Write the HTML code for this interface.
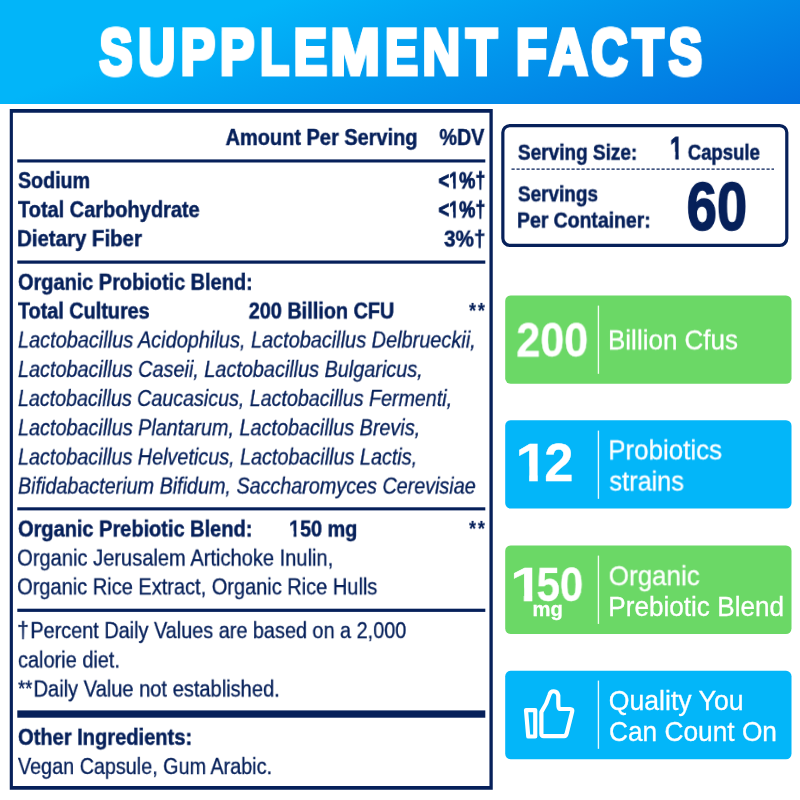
<!DOCTYPE html>
<html lang="en">
<head>
<meta charset="utf-8">
<title>Supplement Facts</title>
<style>
html,body{margin:0;padding:0;}
body{width:800px;height:800px;position:relative;overflow:hidden;background:#fff;font-family:"Liberation Sans",sans-serif;}
.abs{position:absolute;}
.hdr{left:0;top:0;width:800px;height:103.5px;background:linear-gradient(160deg,#02b5f9 26%,#0270de 100%);}
.t{will-change:transform;position:absolute;left:0;top:0;white-space:pre;line-height:1;transform-origin:0 0;color:#06205a;font-weight:normal;-webkit-text-stroke:0.35px #06205a;}
.b{font-weight:bold;-webkit-text-stroke:0.5px #06205a;}
.i{font-style:italic;}
.hv{-webkit-text-stroke:0.9px #06205a;}
.hv2{-webkit-text-stroke:1.4px #06205a;}
.ns{-webkit-text-stroke:0.15px #06205a;}
.one{clip-path:polygon(0 0,0.372em 0,0.372em 1em,0.229em 1em,0.229em 0.58em,0 0.58em);}
.w{color:#fff;-webkit-text-stroke:0.3px #fff;}
.title{-webkit-text-stroke:4px #fff;text-shadow:-1.7px -1.7px 0 #fff,-1.7px 1.7px 0 #fff,1.7px -1.7px 0 #fff,1.7px 1.7px 0 #fff;}
</style>
</head>
<body>
<div class="abs hdr"></div>

<svg class="abs" style="left:0;top:0" width="800" height="800" viewBox="0 0 800 800">
<g fill="#06205a">
<path fill-rule="evenodd" d="M9.75 109H492.75V789.75H9.75Z M12.9 112.75V786H489.45V112.75Z"/>
<rect x="17.3" y="159.4" width="468" height="3.1"/>
<rect x="17.3" y="260.5" width="468" height="3.2"/>
<rect x="17.3" y="507.3" width="468" height="3.1"/>
<rect x="17.3" y="608.7" width="468" height="3.2"/>
<rect x="17.3" y="710.4" width="468" height="7.3"/>
</g>
<g>
<rect x="505.2" y="295.4" width="286.3" height="88.4" rx="5.5" fill="#6bd866"/>
<rect x="505.2" y="420.2" width="286.3" height="88.4" rx="5.5" fill="#03b6f9"/>
<rect x="505.2" y="545.5" width="286.3" height="88.5" rx="5.5" fill="#6bd866"/>
<rect x="505.2" y="670.8" width="286.3" height="88.5" rx="5.5" fill="#03b6f9"/>
<g fill="#fff" fill-opacity=".92">
<rect x="597.75" y="305.6" width="1.35" height="68.2"/>
<rect x="597.75" y="430.6" width="1.35" height="68.2"/>
<rect x="597.75" y="555.6" width="1.35" height="68.3"/>
<rect x="597.75" y="680.6" width="1.35" height="68.2"/>
</g>
</g>
<rect x="502.85" y="125.6" width="283.95" height="119.7" rx="7" ry="7" fill="none" stroke="#06205a" stroke-width="3.2"/>
<line x1="511.5" y1="169.1" x2="774" y2="169.1" stroke="#06205a" stroke-width="1.3" stroke-dasharray="3.2 1.8"/>
</svg>
<svg class="abs" style="left:510px;top:675px" width="100" height="80" viewBox="0 0 100 80" fill="none" stroke="#fff" stroke-width="4.2" stroke-linejoin="round" stroke-linecap="round">
<path d="M16 35.1 L25.25 35.1 L25.25 61.5 L18.25 61.5 Z"/>
<path d="M31.4 58.75 L31.4 37 C34.5 32.5 37.5 27 39.6 19.5 C40.6 15.2 47.2 14.8 48.3 20.5 L48.3 28.5 C48.3 31.5 48.7 33.9 49.5 33.9 L60 34 Q62.9 34.1 62.2 36.6 L56.6 58.7 Q55.9 61.1 54.4 61.1 L33.75 61.1 Q31.4 61.1 31.4 58.75 Z"/>
</svg>

<div class="t b w title" style="font-size:66px;transform:translate(99.26px,19.41px) scale(0.7556,0.9837)">S</div>
<div class="t b w title" style="font-size:66px;transform:translate(137.97px,19.41px) scale(0.7833,0.9837)">U</div>
<div class="t b w title" style="font-size:66px;transform:translate(180.68px,19.41px) scale(0.7857,0.9837)">P</div>
<div class="t b w title" style="font-size:66px;transform:translate(219.93px,19.41px) scale(0.7833,0.9837)">P</div>
<div class="t b w title" style="font-size:66px;transform:translate(260.05px,19.41px) scale(0.7244,0.9837)">L</div>
<div class="t b w title" style="font-size:66px;transform:translate(293.73px,19.41px) scale(0.7619,0.9837)">E</div>
<div class="t b w title" style="font-size:66px;transform:translate(330.45px,19.41px) scale(0.8990,0.9837)">M</div>
<div class="t b w title" style="font-size:66px;transform:translate(385.00px,19.41px) scale(0.7524,0.9837)">E</div>
<div class="t b w title" style="font-size:66px;transform:translate(422.41px,19.41px) scale(0.7955,0.9837)">N</div>
<div class="t b w title" style="font-size:66px;transform:translate(465.95px,19.41px) scale(0.7750,0.9837)">T</div>
<div class="t b w title" style="font-size:66px;transform:translate(515.95px,19.41px) scale(0.7737,0.9837)">F</div>
<div class="t b w title" style="font-size:66px;transform:translate(548.92px,19.41px) scale(0.8163,0.9837)">A</div>
<div class="t b w title" style="font-size:66px;transform:translate(591.00px,19.41px) scale(0.7687,0.9837)">C</div>
<div class="t b w title" style="font-size:66px;transform:translate(632.25px,19.41px) scale(0.7750,0.9837)">T</div>
<div class="t b w title" style="font-size:66px;transform:translate(668.52px,19.41px) scale(0.7656,0.9837)">S</div>
<div class="t b" style="font-size:23px;transform:translate(225.60px,127.12px) scale(0.8680,0.9412)">Amount Per Serving</div>
<div class="t b" style="font-size:23px;transform:translate(439.40px,127.12px) scale(0.8594,0.9412)">%DV</div>
<div class="t b" style="font-size:23px;transform:translate(18.00px,170.22px) scale(0.8524,0.9412)">Sodium</div>
<div class="t b hv" style="font-size:23px;transform:translate(438.50px,170.42px) scale(0.7883,0.9412)">&lt;</div>
<div class="t b hv one" style="font-size:23px;transform:translate(449.09px,170.42px) scale(0.7883,0.9412)">1</div>
<div class="t b hv" style="font-size:23px;transform:translate(459.17px,170.42px) scale(0.7883,0.9412)">%†</div>
<div class="t b" style="font-size:23px;transform:translate(18.00px,199.37px) scale(0.8687,0.9412)">Total Carbohydrate</div>
<div class="t b hv" style="font-size:23px;transform:translate(438.50px,199.52px) scale(0.7883,0.9412)">&lt;</div>
<div class="t b hv one" style="font-size:23px;transform:translate(449.09px,199.52px) scale(0.7883,0.9412)">1</div>
<div class="t b hv" style="font-size:23px;transform:translate(459.17px,199.52px) scale(0.7883,0.9412)">%†</div>
<div class="t b" style="font-size:23px;transform:translate(17.11px,228.37px) scale(0.8872,0.9412)">Dietary Fiber</div>
<div class="t b" style="font-size:23px;transform:translate(444.00px,228.72px) scale(0.9007,0.9412)">3%†</div>
<div class="t b" style="font-size:23px;transform:translate(18.00px,271.87px) scale(0.8663,0.9412)">Organic Probiotic Blend:</div>
<div class="t b" style="font-size:23px;transform:translate(18.00px,300.62px) scale(0.8611,0.9412)">Total Cultures</div>
<div class="t b" style="font-size:23px;transform:translate(248.75px,300.62px) scale(0.8627,0.9412)">200 Billion CFU</div>
<div class="t b ns" style="font-size:23px;transform:translate(469.00px,300.96px) scale(0.7889,0.9222)">*</div>
<div class="t b ns" style="font-size:23px;transform:translate(477.80px,300.96px) scale(0.8000,0.9222)">*</div>
<div class="t i" style="font-size:23px;transform:translate(18.00px,329.62px) scale(0.8662,0.9412)">Lactobacillus Acidophilus, Lactobacillus Delbrueckii,</div>
<div class="t i" style="font-size:23px;transform:translate(18.00px,359.02px) scale(0.8625,0.9412)">Lactobacillus Caseii, Lactobacillus Bulgaricus,</div>
<div class="t i" style="font-size:23px;transform:translate(18.00px,388.12px) scale(0.8552,0.9412)">Lactobacillus Caucasicus, Lactobacillus Fermenti,</div>
<div class="t i" style="font-size:23px;transform:translate(18.00px,417.42px) scale(0.8619,0.9412)">Lactobacillus Plantarum, Lactobacillus Brevis,</div>
<div class="t i" style="font-size:23px;transform:translate(18.00px,446.62px) scale(0.8599,0.9412)">Lactobacillus Helveticus, Lactobacillus Lactis,</div>
<div class="t i" style="font-size:23px;transform:translate(18.00px,475.72px) scale(0.8586,0.9412)">Bifidabacterium Bifidum, Saccharomyces Cerevisiae</div>
<div class="t b" style="font-size:23px;transform:translate(18.00px,518.62px) scale(0.8690,0.9412)">Organic Prebiotic Blend:</div>
<div class="t b one" style="font-size:23px;transform:translate(289.14px,518.62px) scale(0.8580,0.9412)">1</div>
<div class="t b" style="font-size:23px;transform:translate(300.12px,518.62px) scale(0.8580,0.9412)">50 mg</div>
<div class="t b ns" style="font-size:23px;transform:translate(469.00px,518.96px) scale(0.7889,0.9222)">*</div>
<div class="t b ns" style="font-size:23px;transform:translate(477.80px,518.96px) scale(0.8000,0.9222)">*</div>
<div class="t" style="font-size:23px;transform:translate(17.13px,547.72px) scale(0.8737,0.9412)">Organic Jerusalem Artichoke Inulin,</div>
<div class="t" style="font-size:23px;transform:translate(17.13px,576.52px) scale(0.8698,0.9412)">Organic Rice Extract, Organic Rice Hulls</div>
<div class="t" style="font-size:23px;transform:translate(17.19px,620.22px) scale(0.9091,0.9412)">†</div>
<div class="t" style="font-size:23px;transform:translate(30.39px,620.22px) scale(0.8630,0.9412)">Percent Daily Values are based on a 2,000</div>
<div class="t" style="font-size:23px;transform:translate(18.00px,649.62px) scale(0.8668,0.9412)">calorie diet.</div>
<div class="t" style="font-size:23px;transform:translate(18.10px,678.62px) scale(0.7883,0.9412)">**</div>
<div class="t" style="font-size:23px;transform:translate(33.53px,678.62px) scale(0.8726,0.9412)">Daily Value not established.</div>
<div class="t b" style="font-size:23px;transform:translate(18.00px,726.87px) scale(0.8731,0.9412)">Other Ingredients:</div>
<div class="t" style="font-size:23px;transform:translate(18.00px,756.12px) scale(0.8600,0.9412)">Vegan Capsule, Gum Arabic.</div>
<div class="t b" style="font-size:22px;transform:translate(517.90px,140.77px) scale(0.8646,1.0267)">Serving Size:</div>
<div class="t b hv one" style="font-size:29px;transform:translate(669.92px,134.05px) scale(0.8046,1.0500)">1</div>
<div class="t b" style="font-size:22px;transform:translate(687.75px,140.77px) scale(0.8436,1.0267)">Capsule</div>
<div class="t b" style="font-size:22px;transform:translate(517.90px,182.42px) scale(0.8614,1.0267)">Servings</div>
<div class="t b" style="font-size:22px;transform:translate(517.02px,208.67px) scale(0.8817,1.0267)">Per Container:</div>
<div class="t b hv2" style="font-size:68px;transform:translate(686.60px,171.84px) scale(0.8020,1.0061)">60</div>
<div class="t b w" style="font-size:45px;transform:translate(516.29px,315.65px) scale(0.9582,1.0645)">200</div>
<div class="t w" style="font-size:26px;transform:translate(608.00px,326.48px) scale(0.9996,1.0417)">Billion Cfus</div>
<div class="t b w one" style="font-size:52px;transform:translate(515.33px,434.89px) scale(1.1603,1.0389)">1</div>
<div class="t b w" style="font-size:52px;transform:translate(544.24px,435.53px) scale(1.0096,1.0243)">2</div>
<div class="t w" style="font-size:26px;transform:translate(608.26px,436.48px) scale(0.9955,1.0417)">Probiotics</div>
<div class="t w" style="font-size:26px;transform:translate(609.40px,467.68px) scale(0.9742,1.0417)">strains</div>
<div class="t b w one" style="font-size:45px;transform:translate(509.89px,560.64px) scale(1.3519,1.0516)">1</div>
<div class="t b w" style="font-size:45px;transform:translate(536.57px,560.24px) scale(0.9318,1.0726)">50</div>
<div class="t b w" style="font-size:20px;transform:translate(532.49px,599.00px) scale(1.0078,1.0000)">mg</div>
<div class="t w" style="font-size:26px;transform:translate(608.75px,562.28px) scale(0.9996,1.0417)">Organic</div>
<div class="t w" style="font-size:26px;transform:translate(608.24px,593.08px) scale(1.0054,1.0417)">Prebiotic Blend</div>
<div class="t w" style="font-size:26px;transform:translate(608.73px,686.83px) scale(1.0246,1.0417)">Quality You</div>
<div class="t w" style="font-size:26px;transform:translate(608.99px,718.08px) scale(1.0107,1.0417)">Can Count On</div>
</body>
</html>
